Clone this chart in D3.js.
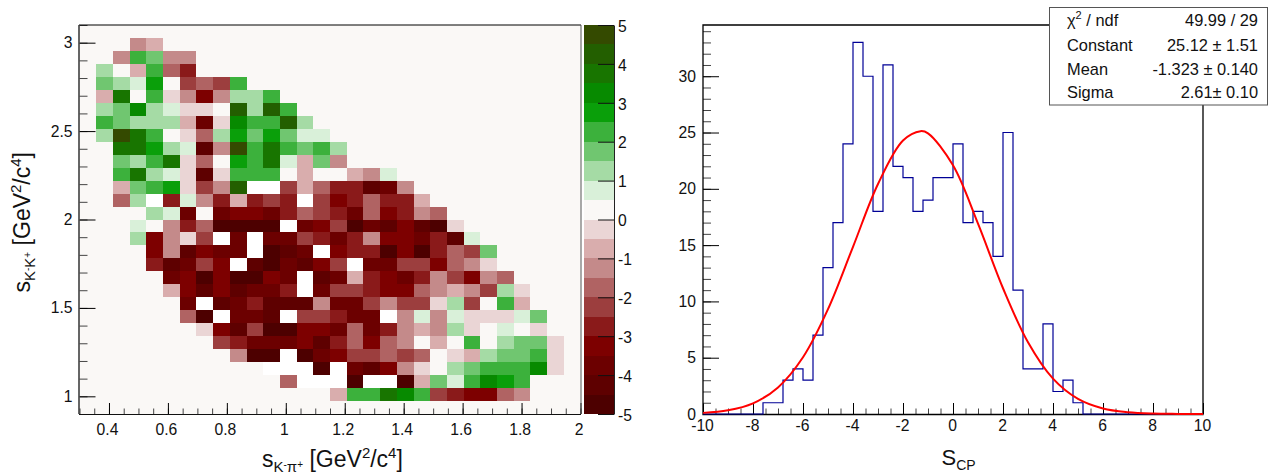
<!DOCTYPE html>
<html><head><meta charset="utf-8">
<script src="https://cdn.jsdelivr.net/npm/d3@7"></script>
<style>
html,body{margin:0;padding:0;background:#fff}
svg{display:block}
text{font-family:"Liberation Sans",Arial,sans-serif;fill:#111}
</style></head><body>
<svg id="c" width="1282" height="476"></svg>
<script>
// ---- Dalitz asymmetry map: z value per bin; each row starts at bin zRowStart[j]; -5.5 = below range
const zRowFirst = 1;
const zRowStart = [3,2,1,1,1,1,1,1,2,2,2,2,2,4,3,3,4,4,5,5,6,6,7,8,9,11,12,15];
const zRows = [
[-1.25,-.75],
[-1.25,2.25,1.75,-1.25,-1.25],
[1.25,.25,-.75,2.25,-1.75,-2.75],
[1.75,1.25,.75,2.75,.25,-2.25,-1.75,-2.25,2.25],
[-.75,3.75,.25,2.25,-.25,-1.25,-3.25,-1.25,1.25,1.25,2.25],
[1.25,1.75,3.25,1.25,.75,-.25,-.25,.25,4.25,1.25,4.25,2.25],
[2.25,1.75,1.25,1.25,1.25,-.75,-3.75,-.25,3.25,2.25,2.25,4.25,1.25],
[1.25,4.75,3.75,2.25,.25,-.25,-1.75,1.25,2.75,1.75,2.75,1.75,.75,.75],
[3.75,3.75,2.75,1.25,.75,-4.25,-1.25,4.75,2.25,3.75,2.25,1.75,2.25,1.25],
[1.75,1.25,2.25,3.75,-.25,-1.75,.25,2.75,2.25,3.75,.75,-.75,1.75,-1.25],
[2.25,3.75,1.25,.75,-.25,-4.25,-.25,2.25,2.25,2.25,.25,-.75,.25,.25,-.75,-1.25,.75],
[-.75,1.75,2.25,2.75,-.25,-2.25,-1.25,4.25,-5.5,-5.5,-2.25,-.75,-1.75,-2.75,-2.75,-4.25,-3.75,-1.25],
[-1.75,1.25,-5.5,-2.75,.75,-1.25,-2.75,-.75,-2.75,-2.25,-2.75,-5.5,-2.25,-3.25,-2.75,-1.75,-2.75,-2.75,-.75],
[1.25,.75,-3.75,.25,-3.75,-3.25,-3.25,-3.75,-2.75,-1.75,-2.25,-2.75,-3.75,-1.75,-3.25,-2.75,-1.25,-1.75],
[.75,.25,-1.25,-2.75,-1.75,-4.75,-4.75,-4.75,-4.75,-5.5,-3.75,-3.25,-2.25,-4.75,-3.75,-4.25,-3.25,-4.25,-4.75,-.25],
[1.25,-3.25,-1.25,-.25,-2.25,-5.5,-3.75,-5.5,-3.75,-3.75,-2.25,-2.75,-3.75,-2.75,-1.25,-3.25,-3.25,-3.75,-2.75,-4.25,.75],
[-3.25,-1.25,-4.25,-3.25,-3.75,-3.75,-5.5,-4.75,-4.25,-3.75,-5.5,-3.25,-2.75,-2.75,-4.75,-3.25,-4.75,-2.75,-1.75,-2.25,1.75],
[-2.75,-4.25,-3.75,-2.25,-3.25,-5.5,-4.25,-4.75,-3.75,-4.25,-3.25,-2.25,-5.5,-3.75,-3.75,-2.25,-2.25,-3.25,-1.75,-1.25,-.25],
[-3.75,-3.25,-4.75,-3.25,-4.75,-4.75,-3.25,-3.75,-5.5,-4.25,-3.75,-.75,-2.75,-3.25,-3.75,-2.75,-1.25,-2.25,-3.25,-1.25,-1.75],
[-.75,-3.25,-4.25,-3.25,-4.25,-3.75,-3.75,-2.75,-5.5,-3.75,-2.25,-2.25,-2.75,-3.25,-3.25,-1.75,-1.25,-.75,-1.25,-2.25,1.25,-.25],
[-3.75,-5.5,-4.25,-3.75,-2.75,-4.25,-4.25,-4.25,-1.25,-3.75,-3.75,-2.25,-1.25,-2.25,-2.25,-.25,1.25,-2.25,.25,2.25,-.75],
[-1.75,-4.75,-5.5,-3.75,-3.75,-4.25,-5.5,-2.25,-2.25,-2.75,-3.75,-3.75,-5.5,-1.25,.75,-1.25,.75,-.25,-.25,-.25,.75,1.75],
[-.25,-3.25,-4.25,-2.25,-4.75,-4.75,-3.25,-3.25,-3.75,-1.75,-3.75,-2.75,-1.25,-.75,-1.25,1.25,-.25,.25,.75,.25,-.25],
[-2.25,-2.75,-3.75,-3.75,-3.75,-3.25,-4.25,-2.75,-1.75,-3.25,-1.75,-1.25,.25,-.75,.25,2.25,.25,1.25,1.75,1.75,-.25],
[-1.25,-4.75,-4.75,-5.5,-4.75,-3.75,-3.25,-2.25,-2.25,-1.75,-2.25,-1.75,.25,-.25,-.75,1.25,1.75,1.75,2.25,-.25],
[-5.5,-5.5,-5.5,-4.75,-5.5,-3.75,-4.25,-3.25,-1.25,-.25,.25,1.25,1.75,2.25,2.25,2.25,3.25,-.25],
[-1.75,-5.5,-5.5,-5.5,-4.75,-5.5,-5.5,-4.75,-.75,1.75,.75,2.25,3.25,2.75,2.25],
[-.75,2.25,2.25,3.75,3.25,2.25,-2.25,-2.75,-3.25,-3.25,-1.75,-1.25]
];
const palette = ["#4d0000","#5e0000","#6c0000","#7d0000","#8a1a1a","#9c3e3e","#b06363","#c48a8a","#d9adad","#ead5d5",
                 "#faf8f6","#d9f0d9","#a5dba5","#70c670","#3cb13c","#0a9f0a","#078a00","#187500","#235f00","#344a00"];
const mapXTicks = [0.4,0.6,0.8,1,1.2,1.4,1.6,1.8,2];
const mapYTicks = [1,1.5,2,2.5,3];
const barTicks = [-5,-4,-3,-2,-1,0,1,2,3,4,5];

// ---- S_CP histogram: counts in bins of width 0.4 from -10 to 10
const histEdgesFrom = -10, histBinWidth = 0.4;
const histCounts = [0,0,0,0,0,0,1,1,3,4,3,7,13,17,24,33,30,18,31,22,21,18,19,21,21,24,17,18,17,14,25,11,4,4,8,2,3,1,0,0,0,0,0,0,0,0,0,0,0,0];
const fitX = [-10,-9,-8,-7,-6,-5,-4,-3,-2,-1.3,-1,0,1,2,3,4,5,6,7,8,9,10];
const fitY = [0.10,0.33,0.95,2.36,5.04,9.31,14.85,20.43,24.29,25.12,24.93,22.09,16.91,11.17,6.37,3.14,1.34,0.49,0.16,0.04,0.01,0.00];
const histXTicks = [-10,-8,-6,-4,-2,0,2,4,6,8,10];
const histYTicks = [0,5,10,15,20,25,30];
const statNames = ["Constant","Mean","Sigma"];
const statValues = ["25.12 ± 1.51","-1.323 ± 0.140","2.61± 0.10"];

const svg = d3.select("#c");
const TICK = 15.7;

// scales
const mx = d3.scaleLinear().domain([0.3,2]).range([79.5,580.5]);
const my = d3.scaleLinear().domain([0.9,3.1]).range([414,25]);
const bar = d3.scaleLinear().domain([-5,5]).range([414,25]);
const hx = d3.scaleLinear().domain([-10,10]).range([703,1203]);
const hy = d3.scaleLinear().domain([0,34.55]).range([414,25]);
const colour = d3.scaleQuantize().domain([-5,5]).range(palette);

function ticksAxis(g, axis, minorAxis, labelDx){
  g.call(minorAxis).call(s=>s.selectAll("text").remove()).call(s=>s.select(".domain").remove());
  g.selectAll(".tick line").attr("stroke","#444").attr("stroke-width",1);
  const m = g.append("g").call(axis);
  m.select(".domain").remove();
  m.selectAll(".tick line").attr("stroke","#000").attr("stroke-width",1);
  m.selectAll("text").attr("font-size",TICK).attr("font-family",'"Liberation Sans",Arial,sans-serif').attr("fill","#111").attr("dx",labelDx||0);
}
function minorVals(a,b,step){ return d3.range(Math.round((b-a)/step)+1).map(i=>+(a+i*step).toFixed(4)); }
const fmt = d=>String(d);

// ---------- left: map
svg.append("rect").attr("x",mx(0.3)).attr("y",my(3.1)).attr("width",mx(2)-mx(0.3)).attr("height",my(0.9)-my(3.1)).attr("fill","#faf8f6");
const dx = 1.7/30, dy = 2.2/30;
const cells = [];
zRows.forEach((row,r)=>row.forEach((z,i)=>cells.push({j:r+zRowFirst,k:zRowStart[r]+i,z})));
svg.append("g").attr("shape-rendering","crispEdges").selectAll("rect").data(cells).join("rect")
  .attr("x",d=>mx(0.3+d.k*dx)).attr("width",d=>mx(0.3+(d.k+1)*dx)-mx(0.3+d.k*dx))
  .attr("y",d=>my(3.1-d.j*dy)).attr("height",d=>my(3.1-(d.j+1)*dy)-my(3.1-d.j*dy))
  .attr("fill",d=>d.z<-5?"#ffffff":colour(d.z));

ticksAxis(svg.append("g").attr("transform","translate(0,414)"),
  d3.axisBottom(mx).tickValues(mapXTicks).tickFormat(fmt).tickSizeInner(-11).tickSizeOuter(0).tickPadding(10),
  d3.axisBottom(mx).tickValues(minorVals(0.3,2,0.05)).tickSizeInner(-5.5).tickSizeOuter(0), -2);
ticksAxis(svg.append("g").attr("transform","translate(79.5,0)"),
  d3.axisLeft(my).tickValues(mapYTicks).tickFormat(fmt).tickSizeInner(-16).tickSizeOuter(0).tickPadding(7),
  d3.axisLeft(my).tickValues(minorVals(0.9,3.1,0.1)).tickSizeInner(-8).tickSizeOuter(0));
const fr = svg.append("g").attr("fill","none");
fr.append("line").attr("x1",79).attr("x2",581).attr("y1",25).attr("y2",25).attr("stroke","#000");
fr.append("line").attr("x1",581).attr("x2",581).attr("y1",25).attr("y2",414).attr("stroke","#555");
fr.append("line").attr("x1",79).attr("x2",581).attr("y1",414.5).attr("y2",414.5).attr("stroke","#111").attr("stroke-width",1.2);
fr.append("line").attr("x1",79).attr("x2",79).attr("y1",25).attr("y2",414).attr("stroke","#333").attr("stroke-width",1.5);

// ---------- colour bar
const bandZ = d3.range(20).map(i=>-5+i*0.5);
svg.append("g").attr("shape-rendering","crispEdges").selectAll("rect").data(bandZ).join("rect")
  .attr("x",584).attr("width",30).attr("y",d=>bar(d+0.5)).attr("height",d=>bar(d)-bar(d+0.5))
  .attr("fill",d=>colour(d+0.25));
const ba = svg.append("g").attr("transform","translate(614,0)")
  .call(d3.axisRight(bar).tickValues(barTicks).tickFormat(fmt).tickSizeInner(-16).tickSizeOuter(0).tickPadding(4));
ba.select(".domain").attr("stroke","#222");
ba.selectAll(".tick line").attr("stroke","#111");
ba.selectAll("text").attr("font-size",TICK).attr("font-family",'"Liberation Sans",Arial,sans-serif').attr("fill","#111").attr("dy","0.4em");

// rich text helper: segments [text, shift, size]
function rich(x,y,segs,rot){
  const t = svg.append("text").attr("transform",`translate(${x},${y})`+(rot?` rotate(${rot})`:""));
  let cur=0;
  segs.forEach(([s,shift,size])=>{
    t.append("tspan").attr("font-size",size).attr("dy",shift-cur).text(s);
    cur=shift;
  });
  return t;
}
rich(262,467,[["s",0,23],["K",5,15],["-",1,10],["π",5,15],["+",1,10],[" [GeV",0,23],["2",-9,15],["/c",0,23],["4",-9,15],["]",0,23]]);
rich(30,292.5,[["s",0,23],["K",5,15],["-",1,10],["K",5,15],["+",1,10],[" [GeV",0,23],["2",-9,15],["/c",0,23],["4",-9,15],["]",0,23]],-90);

// ---------- right: histogram frame and ticks, then data on top
ticksAxis(svg.append("g").attr("transform","translate(0,414)"),
  d3.axisBottom(hx).tickValues(histXTicks).tickFormat(fmt).tickSizeInner(-11).tickSizeOuter(0).tickPadding(6),
  d3.axisBottom(hx).tickValues(minorVals(-10,10,0.5)).tickSizeInner(-5.5).tickSizeOuter(0), -1);
ticksAxis(svg.append("g").attr("transform","translate(703,0)"),
  d3.axisLeft(hy).tickValues(histYTicks).tickFormat(fmt).tickSizeInner(-16).tickSizeOuter(0).tickPadding(7),
  d3.axisLeft(hy).tickValues(minorVals(0,34,1)).tickSizeInner(-8).tickSizeOuter(0));
svg.append("path").attr("d","M703,414.5V25H1203V414.5Z").attr("fill","none").attr("stroke","#000").attr("stroke-width",1.3);

const histPts = [];
histCounts.forEach((c,i)=>{
  const a = histEdgesFrom+i*histBinWidth;
  histPts.push([a,c],[a+histBinWidth,c]);
});
svg.append("path").attr("d",d3.line().x(d=>hx(d[0])).y(d=>hy(d[1]))(histPts))
  .attr("fill","none").attr("stroke","#000096").attr("stroke-width",1.2);
svg.append("path").attr("d",d3.line().curve(d3.curveCatmullRom.alpha(0.5)).x(d=>hx(d[0])).y(d=>hy(d[1]))(fitX.map((v,i)=>[v,fitY[i]])))
  .attr("fill","none").attr("stroke","#ff0000").attr("stroke-width",2);

rich(941.5,465,[["S",0,22],["CP",5,14]]);

// stats box
svg.append("rect").attr("x",1049.5).attr("y",7.5).attr("width",218).attr("height",97.5)
  .attr("fill","#fff").attr("stroke","#555").attr("stroke-width",1);
const STAT = 16.4, sx = 1067, ex = 1258, rows = [50.5,74.5,97.5];
rich(sx,26,[["χ",0,STAT],["2",-7,11],[" / ndf",0,STAT]]);
svg.append("text").attr("x",ex).attr("y",26).attr("text-anchor","end").attr("font-size",STAT).text("49.99 / 29");
statNames.forEach((n,i)=>{
  svg.append("text").attr("x",sx).attr("y",rows[i]).attr("font-size",STAT).text(n);
  svg.append("text").attr("x",ex).attr("y",rows[i]).attr("text-anchor","end").attr("font-size",STAT).text(statValues[i]);
});
</script>
</body></html>
